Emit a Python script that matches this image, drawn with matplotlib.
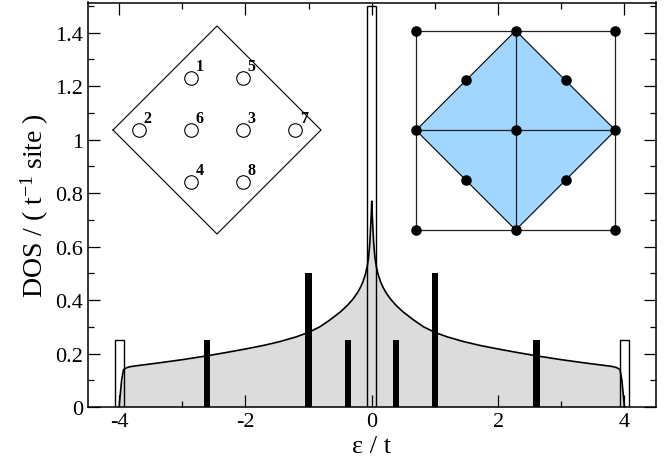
import matplotlib
matplotlib.use("Agg")
import matplotlib.pyplot as plt
from matplotlib.ticker import MultipleLocator

plt.rcParams['font.family'] = ['Liberation Serif', 'DejaVu Sans']
plt.rcParams['mathtext.default'] = 'regular'

# DOS curve (right half, mirrored below)
dos_e = [0.0, 0.01, 0.03, 0.05, 0.07, 0.10, 0.14, 0.18, 0.23, 0.30, 0.39, 0.50, 0.66, 0.82, 1.0,
         1.2, 1.45, 1.7, 2.0, 2.3, 2.62, 3.0, 3.4, 3.7, 3.82, 3.88, 3.93, 3.96, 3.98, 4.0]
dos_v = [0.77, 0.71, 0.615, 0.56, 0.528, 0.497, 0.468, 0.447, 0.426, 0.403, 0.379, 0.355, 0.326, 0.300, 0.279,
         0.262, 0.245, 0.231, 0.217, 0.204, 0.191, 0.177, 0.164, 0.155, 0.151, 0.147, 0.140, 0.10, 0.05, 0.0]
x_curve = [-e for e in dos_e[:0:-1]] + dos_e
y_curve = dos_v[:0:-1] + dos_v

# Filled levels
black_e = [-2.61, -1.0, -0.38, 0.38, 1.0, 2.61]
black_h = [0.25, 0.5, 0.25, 0.25, 0.5, 0.25]
open_e = [-4.0, 0.0, 4.0]
open_h = [0.25, 1.5, 0.25]

# Left inset: cluster in lattice units
cluster_outline_x = [-2, 0, 2, 0, -2]
cluster_outline_y = [0, 2, 0, -2, 0]
site_labels = ['1', '2', '3', '4', '5', '6', '7', '8']
site_x = [-0.5, -1.5, 0.5, -0.5, 0.5, -0.5, 1.5, 0.5]
site_y = [1, 0, 0, -1, 1, 0, 0, -1]

# Right inset: Brillouin zone
square_x = [-1, 1, 1, -1, -1]
square_y = [-1, -1, 1, 1, -1]
zone_x = [-1, 0, 1, 0]
zone_y = [0, 1, 0, -1]
k_x = [-1, 0, 1, -0.5, 0.5, -1, 0, 1, -0.5, 0.5, -1, 0, 1]
k_y = [1, 1, 1, 0.5, 0.5, 0, 0, 0, -0.5, -0.5, -1, -1, -1]

W, H = 672, 464
fig = plt.figure(figsize=(W / 100, H / 100), dpi=100)
L, R, T, B = 87.5, 656, 3.5, 408
ax = fig.add_axes([L / W, 1 - B / H, (R - L) / W, (B - T) / H])
ax.fill_between(x_curve, y_curve, 0, color='#dcdcdc', lw=0, zorder=1)
ax.bar(open_e, open_h, width=0.14, facecolor='none', edgecolor='black', lw=1.0, zorder=3)
ax.bar(black_e, black_h, width=0.10, color='black', lw=0, zorder=3)
ax.plot(x_curve, y_curve, color='black', lw=1.2, zorder=4)

ax.set_xlim(-4.5, 4.5)
ax.set_ylim(0, 1.513)
ax.xaxis.set_major_locator(MultipleLocator(2))
ax.xaxis.set_minor_locator(MultipleLocator(1))
ax.yaxis.set_major_locator(MultipleLocator(0.2))
ax.yaxis.set_minor_locator(MultipleLocator(0.1))
ax.tick_params(which='both', direction='in', top=True, right=True, width=0.9, labelsize=16)
ax.tick_params(axis='y', which='major', pad=3)
ax.tick_params(axis='x', which='major', pad=3.5)
ax.tick_params(which='major', length=8.5)
ax.tick_params(which='minor', length=4.2)
ax.set_yticks([0, 0.2, 0.4, 0.6, 0.8, 1.0, 1.2, 1.4])
ax.set_yticklabels(['0', '0.2', '0.4', '0.6', '0.8', '1', '1.2', '1.4'])
ax.set_xticks([-4, -2, 0, 2, 4])
ax.set_xticklabels(['-4', '-2', '0', '2', '4'])
for s in ax.spines.values():
    s.set_linewidth(1.1)
    s.set_zorder(6)
ax.set_xlabel('ε / t', fontsize=19, labelpad=3)
ax.set_ylabel('DOS / ( t$^{-1}$ site )', fontsize=20, labelpad=3)

# left inset (centre 217,131 ; 52 px per site)
cx, cy, u = 217, 131, 52
axl = fig.add_axes([(cx - 2.2 * u) / W, 1 - (cy + 2.2 * u) / H, 4.4 * u / W, 4.4 * u / H])
axl.set_xlim(-2.2, 2.2)
axl.set_ylim(-2.2, 2.2)
axl.axis('off')
axl.plot(cluster_outline_x, cluster_outline_y, color='black', lw=0.8)
axl.scatter(site_x, site_y, s=95, facecolors='white', edgecolors='black', lw=0.8, zorder=3)
for lab, sx, sy in zip(site_labels, site_x, site_y):
    axl.annotate(lab, (sx, sy), xytext=(3.5, 5.5), textcoords='offset points',
                 fontsize=11.5, fontweight='bold', zorder=4)

# right inset (centre 515.7,131.3 ; half-size 99.7 px)
cx, cy, u = 515.7, 131.3, 99.7
axr = fig.add_axes([(cx - 1.1 * u) / W, 1 - (cy + 1.1 * u) / H, 2.2 * u / W, 2.2 * u / H])
axr.set_xlim(-1.1, 1.1)
axr.set_ylim(-1.1, 1.1)
axr.axis('off')
axr.fill(zone_x, zone_y, facecolor='#a0d6ff', edgecolor='black', lw=0.8)
axr.plot(square_x, square_y, color='#222222', lw=0.9)
axr.plot([-1, 1], [0, 0], color='#222222', lw=0.9)
axr.plot([0, 0], [-1, 1], color='#222222', lw=0.9)
axr.scatter(k_x, k_y, s=58, color='black', lw=0, zorder=3)

fig.savefig('out.png', dpi=100)
